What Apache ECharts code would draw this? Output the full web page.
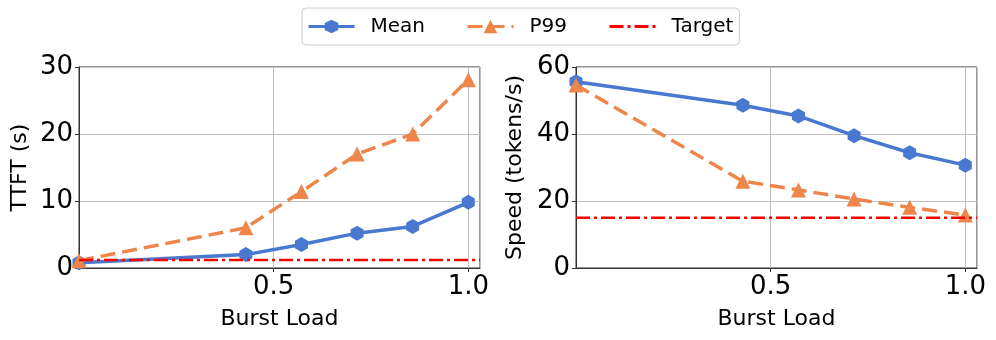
<!DOCTYPE html>
<html>
<head>
<meta charset="utf-8">
<script src="https://cdn.jsdelivr.net/npm/echarts@6/dist/echarts.min.js"></script>
<style>
  html, body { margin: 0; padding: 0; background: #fff; }
  #main { width: 996px; height: 340px; }
</style>
</head>
<body>
<div id="main"></div>
<script>
  // burst load levels (x)
  var burstLoad = [0.0, 0.4286, 0.5714, 0.7143, 0.8571, 1.0];
  var xMin = 0, xMax = 1.03;
  // TTFT (s)
  var ttftMean = [0.8, 2.0, 3.5, 5.2, 6.2, 9.8];
  var ttftP99 = [1.1, 6.0, 11.4, 17.0, 20.0, 28.1];
  var ttftTarget = 1.2;
  // speed (tokens/s)
  var speedMean = [55.6, 48.6, 45.4, 39.5, 34.4, 30.7];
  var speedP99 = [54.6, 25.9, 23.3, 20.6, 18.1, 15.8];
  var speedTarget = 15;

  var blue = '#4878d0', orange = '#ee854a', red = '#ff0000';
  var hexagon = 'path://M0,-1L0.866,-0.5L0.866,0.5L0,1L-0.866,0.5L-0.866,-0.5Z';
  var font = 'DejaVu Sans';

  function pairs(xs, ys) {
    return xs.map(function (x, i) { return [x, ys[i]]; });
  }

  function xAxis(idx) {
    return {
      gridIndex: idx, type: 'value', min: xMin, max: xMax, interval: 0.5,
      name: 'Burst Load', nameLocation: 'middle', nameGap: 40,
      nameTextStyle: { fontFamily: font, fontSize: 22, color: '#000' },
      axisLine: { show: true, onZero: false, lineStyle: { color: '#333', width: 1 } },
      axisTick: { show: true, inside: false, length: 4, lineStyle: { color: '#333' } },
      axisLabel: {
        fontFamily: font, fontSize: 26, color: '#000', margin: 6,
        showMinLabel: false, showMaxLabel: false,
        formatter: function (v) { return v.toFixed(1); }
      },
      splitLine: { show: true, lineStyle: { color: '#c0c0c0', width: 1 } }
    };
  }

  function yAxis(idx, max, interval, name, gap) {
    return {
      gridIndex: idx, type: 'value', min: 0, max: max, interval: interval,
      name: name, nameLocation: 'middle', nameGap: gap,
      nameTextStyle: { fontFamily: font, fontSize: 22, color: '#000' },
      axisLine: { show: true, lineStyle: { color: '#333', width: 1 } },
      axisTick: { show: true, inside: false, length: 4, lineStyle: { color: '#333' } },
      axisLabel: { fontFamily: font, fontSize: 26, color: '#000', margin: 6 },
      splitLine: { show: true, lineStyle: { color: '#c0c0c0', width: 1 } }
    };
  }

  function meanSeries(idx, ys) {
    return {
      name: 'Mean', type: 'line', xAxisIndex: idx, yAxisIndex: idx,
      data: pairs(burstLoad, ys), symbol: hexagon, symbolSize: 15, symbolKeepAspect: true,
      showAllSymbol: true, z: 3,
      lineStyle: { color: blue, width: 3.5 },
      itemStyle: { color: blue }
    };
  }

  function p99Series(idx, ys) {
    return {
      name: 'P99', type: 'line', xAxisIndex: idx, yAxisIndex: idx,
      data: pairs(burstLoad, ys), symbol: 'triangle', symbolSize: 15,
      showAllSymbol: true, z: 4,
      lineStyle: { color: orange, width: 3.5, type: [15, 7] },
      itemStyle: { color: orange }
    };
  }

  function targetSeries(idx, t) {
    return {
      name: 'Target', type: 'line', xAxisIndex: idx, yAxisIndex: idx,
      data: [[xMin, t], [xMax, t]], symbol: 'none', z: 5,
      lineStyle: { color: red, width: 2.5, type: [14, 4, 3, 4] },
      itemStyle: { color: 'rgba(0,0,0,0)' }
    };
  }

  var chart = echarts.init(document.getElementById('main'));
  chart.setOption({
    animation: false,
    backgroundColor: '#fff',
    legend: {
      left: 302, top: 8,
      padding: [8, 6, 8, 5],
      itemWidth: 46, itemHeight: 17, itemGap: 41,
      borderColor: '#cccccc', borderWidth: 1, borderRadius: 4,
      lineStyle: { width: 3 },
      textStyle: { fontFamily: font, fontSize: 20, color: '#000', padding: [0, 0, 0, 11], lineHeight: 21 },
      data: ['Mean', 'P99', 'Target']
    },
    grid: [
      { left: 79, top: 67, width: 401, height: 201, show: true, borderColor: '#333', borderWidth: 1 },
      { left: 576, top: 67, width: 401, height: 201, show: true, borderColor: '#333', borderWidth: 1 }
    ],
    xAxis: [xAxis(0), xAxis(1)],
    yAxis: [
      yAxis(0, 30, 10, 'TTFT (s)', 48),
      yAxis(1, 60, 20, 'Speed (tokens/s)', 50)
    ],
    series: [
      meanSeries(0, ttftMean), p99Series(0, ttftP99), targetSeries(0, ttftTarget),
      meanSeries(1, speedMean), p99Series(1, speedP99), targetSeries(1, speedTarget)
    ]
  });
</script>
</body>
</html>
